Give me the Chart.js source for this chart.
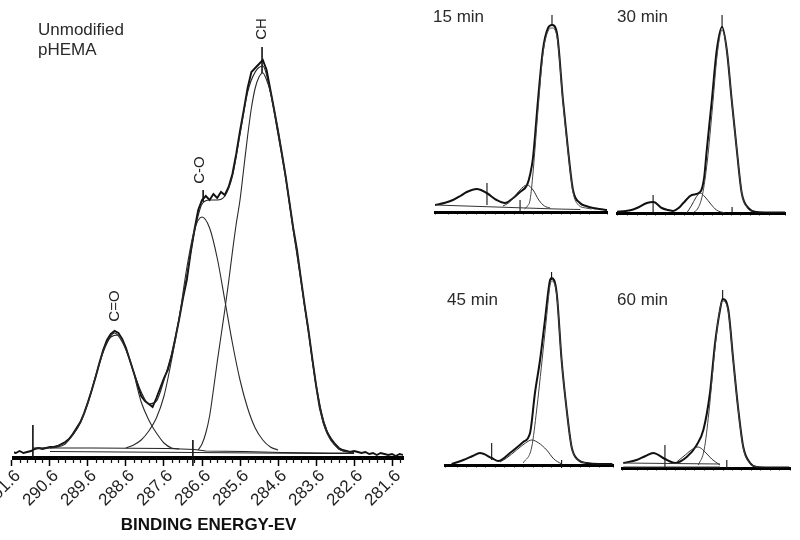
<!DOCTYPE html>
<html><head><meta charset="utf-8">
<script src="https://cdn.jsdelivr.net/npm/chart.js@4.4.0/dist/chart.umd.min.js"></script>
<style>
html,body{margin:0;padding:0;background:#fff;}
#stage{position:relative;width:800px;height:540px;overflow:hidden;background:#fff;font-family:"Liberation Sans",Arial,sans-serif;}
canvas{position:absolute;}
.t{position:absolute;font-size:17px;line-height:20px;color:#2a2a2a;white-space:nowrap;}
</style></head><body>
<div id="stage">
<canvas id="cMain"></canvas>
<canvas id="c15"></canvas>
<canvas id="c30"></canvas>
<canvas id="c45"></canvas>
<canvas id="c60"></canvas>
<div class="t" style="left:38px;top:20px">Unmodified<br>pHEMA</div>
<div class="t" style="left:433px;top:7px">15 min</div>
<div class="t" style="left:617px;top:7px">30 min</div>
<div class="t" style="left:447px;top:290px">45 min</div>
<div class="t" style="left:617px;top:290px">60 min</div>
</div>
<script>
// ---------------- MAIN PANEL (unmodified pHEMA) ----------------
const mainTickValues = [291.6,290.6,289.6,288.6,287.6,286.6,285.6,284.6,283.6,282.6,281.6];
const mainMinorTicks = [291.4,291.2,291.0,290.8,290.4,290.2,290.0,289.8,289.4,289.2,289.0,288.8,
  288.4,288.2,288.0,287.8,287.4,287.2,287.0,286.8,286.4,286.2,286.0,285.8,285.4,285.2,285.0,284.8,
  284.4,284.2,284.0,283.8,283.4,283.2,283.0,282.8,282.4,282.2,282.0,281.8,281.4];
const axisTitle = 'BINDING ENERGY-EV';

const dataEnergy = [291.6,291.5,291.4,291.3,291.2,291.1,291.0,290.9,290.8,290.7,290.6,290.5,290.4,290.3,290.2,290.1,
  290.0,289.9,289.8,289.7,289.6,289.5,289.4,289.3,289.2,289.1,289.0,288.9,288.8,288.7,288.6,288.5,288.4,288.3,288.2,288.1,
  288.0,287.9,287.8,287.7,287.6,287.5,287.4,287.3,287.2,287.1,287.0,286.9,286.8,286.7,286.6,286.5,286.4,286.3,286.2,286.1,
  286.0,285.9,285.8,285.7,285.6,285.5,285.4,285.3,285.2,285.1,285.0,284.9,284.8,284.7,284.6,284.5,284.4,284.3,284.2,284.1,
  284.0,283.9,283.8,283.7,283.6,283.5,283.4,283.3,283.2,283.1,283.0,282.9,282.8,282.7,282.6,282.5,282.4,282.3,282.2,282.1,
  282.0,281.9,281.8,281.7,281.6,281.5,281.4,281.3];
const dataCounts = [6,5,7,5,6,7,9,10,9,10,11,11,12,14,16,19,
  24,30,36,45,56,68,81,95,108,118,124,127,125,119,110,98,86,74,62,57,
  54,51,60,70,80,88,102,120,139,160,178,205,228,248,258,262,258,264,260,266,
  263,271,284,304,327,348,370,386,390,394,398,388,368,348,327,305,282,256,230,208,
  180,153,128,100,73,50,35,25,19,14,10,8,7,6,7,6,5,6,4,5,
  3,5,4,3,4,2,4,3];

const fitEnergy = [291.0,290.8,290.6,290.4,290.2,290.0,289.8,289.6,289.4,289.2,289.0,288.8,288.6,288.4,288.2,288.0,
  287.8,287.6,287.4,287.2,287.0,286.8,286.6,286.4,286.2,286.0,285.8,285.6,285.4,285.2,285.0,284.8,284.6,284.4,284.2,284.0,
  283.8,283.6,283.4,283.2,283.0,282.8,282.6];
const fitCounts = [9.5,9.7,10.5,12,15.5,23,36,56,81,106,121,123,109,86,66,54,
  57,78,104,140,182,226,254,258,258,262,282,324,366,386,392,366,324,280,228,178,
  126,74,37,18,9,6.5,5.5];

const chEnergy = [286.7,286.6,286.5,286.4,286.3,286.2,286.1,286.0,285.9,285.8,285.7,285.6,285.5,285.4,285.3,285.2,285.1,285.0,
  284.9,284.8,284.7,284.6,284.5,284.4,284.3,284.2,284.1,284.0,283.9,283.8,283.7,283.6,283.5,283.4,283.3,283.2,283.1,283.0,282.8];
const chCounts = [8,14,25,42,68,96,122,148,176,206,234,258,290,322,350,370,381,385,
  378,366,348,328,305,282,256,230,206,180,152,128,98,72,50,34,24,17,13,9,6];

const coEnergy = [288.6,288.4,288.2,288.0,287.8,287.6,287.4,287.2,287.0,286.8,286.6,286.4,
  286.2,286.0,285.8,285.6,285.4,285.2,285.0,284.8,284.6];
const coCounts = [10,13,18,27,40,62,98,140,190,228,241,230,200,158,115,78,50,30,18,11,8];

const cdoEnergy = [290.6,290.4,290.2,290.0,289.8,289.6,289.5,289.4,289.2,289.0,288.9,288.8,288.6,288.4,288.3,288.2,
  288.0,287.9,287.8,287.6,287.4,287.2];
const cdoCounts = [10,11,14,23,35,55,68,82,107,122,125,122,108,86,70,56,38,31,25,15,10,9];

const bgUpperEnergy = [291.05,289.5,287.5,286.8,286.5,285.5,284.5,283.2,282.6];
const bgUpperCounts = [10,10,9.5,8.5,7,6.5,5.5,5,5];
const bgLowerEnergy = [290.6,286.8,283.4,282.6];
const bgLowerCounts = [6.5,5.5,4.5,4.5];

const mainMarkerEnergy = [291.05,286.84,286.57,285.02];
const mainMarkerFrom   = [33,18,256,385];
const mainMarkerTo     = [0,-8,268,411];

const peakLabelText   = ['C=O','C-O','CH'];
const peakLabelEnergy = [288.9,286.65,285.02];
const peakLabelHeight = [152,288,429];

// ---------------- SMALL PANELS ----------------
// 15 min
const p15EnvE = [291.19,290.7,290.24,289.85,289.51,288.98,288.46,287.93,287.49,287.05,286.69,286.32,286.15,286.0,
  285.74,285.48,285.21,285.0,284.74,284.42,284.15,283.89,283.52,283.2,282.83,282.5,282.09];
const p15EnvV = [7,9,12,16,20,23,19,12,9,14,20,27,38,55,112,162,184,187,179,112,62,22,9,6,4,3,2];
const p15CHE = [286.45,286.3,286.16,286.0,285.74,285.48,285.21,285.0,284.74,284.42,284.15,283.89,283.6,283.2,282.9];
const p15CHV = [3,6,12,40,102,158,181,184,176,110,60,20,7,4,3];
const p15COE = [287.6,287.3,287.0,286.7,286.32,286.0,285.7,285.4,285.1];
const p15COV = [6,9,15,22,27,22,12,6,4];
const p15BgE = [291.19,284.74,283.5];
const p15BgV = [7,3,2.5];
const p15MarkE = [288.44,286.69,285.0];
const p15MarkFrom = [29,12,187];
const p15MarkTo = [7,0,197];

// 30 min
const p30EnvE = [290.56,290.1,289.8,289.51,288.98,288.63,288.19,287.85,287.58,287.3,287.05,286.6,286.16,285.95,
  285.81,285.54,285.28,285.0,284.75,284.49,284.22,283.96,283.6,283.16,282.5,281.67];
const p30EnvV = [1.3,2,3,5,10,11,5,3,2,5,10,18,21,35,63,113,163,186,163,113,63,20,5,1,0.5,0.5];
const p30CHE = [286.5,286.3,286.04,285.78,285.51,285.26,285.0,284.75,284.49,284.22,283.96,283.7,283.4];
const p30CHV = [1,4,18,52,105,158,183,163,113,63,20,6,1];
const p30COE = [286.87,286.6,286.4,286.16,285.9,285.6,285.3,284.84];
const p30COV = [0,8,15,20,16,9,3,0];
const p30MarkE = [288.65,284.47,285.0];
const p30MarkFrom = [18,6,186];
const p30MarkTo = [0,0,198];

// 45 min
const p45EnvE = [290.31,289.69,289.2,288.81,288.19,287.84,287.22,286.52,286.16,285.9,285.63,285.37,285.1,285.02,
  284.75,284.49,284.22,283.96,283.61,283.16,282.5,281.8];
const p45EnvV = [1,5,9,12,7,4,12,23,32,72,105,145,185,187,172,105,55,18,5,2,1,1];
const p45CHE = [286.52,286.07,285.81,285.55,285.3,285.1,285.02,284.75,284.49,284.22,283.96,283.61,283.2];
const p45CHV = [2,18,55,100,145,180,184,170,105,55,18,5,2];
const p45COE = [287.75,287.4,286.87,286.4,286.07,285.7,285.28,284.9,284.49];
const p45COV = [3,7,15,22,25,22,15,6,1];
const p45MarkE = [288.19,284.49,285.02];
const p45MarkFrom = [22,5,185];
const p45MarkTo = [5,-3,193];

// 60 min
const p60EnvE = [290.27,289.57,289.1,288.69,288.07,287.54,286.92,286.39,286.04,285.69,285.42,285.16,285.02,
  284.72,284.46,284.19,283.93,283.57,283.22,282.6,281.5];
const p60EnvV = [5,8,12,15,9,5,11,23,38,75,125,158,169,158,108,58,21,5,1,0.5,0.5];
const p60CHE = [286.3,286.0,285.75,285.45,285.2,285.02,284.72,284.46,284.19,283.93,283.6,283.2];
const p60CHV = [3,18,55,115,155,167,156,107,57,20,5,1];
const p60COE = [287.45,287.0,286.6,286.31,286.0,285.6,285.16];
const p60COV = [6,13,19,21,17,9,3];
const p60BgE = [290.27,285.16];
const p60BgV = [5,4];
const p60Bg2V = [1,1];
const p60MarkE = [288.07,284.8,285.02];
const p60MarkFrom = [23,8,169];
const p60MarkTo = [1,-2,178];

// ---------------- helpers ----------------
const FONT = '"Liberation Sans", Arial, sans-serif';
Chart.defaults.font.family = FONT;

function xy(E, V){ return E.map((e,i)=>({x:e, y:V[i]})); }
function line(E, V, color, width, extra){
  return Object.assign({data: xy(E,V), borderColor: color, borderWidth: width, pointRadius: 0,
    fill: false, tension: 0, cubicInterpolationMode: 'monotone'}, extra||{});
}
function markers(E, from, to, width){
  return E.map((e,i)=>({data:[{x:e,y:from[i]},{x:e,y:to[i]}], borderColor:'#111', borderWidth: width||1.3,
    pointRadius:0, fill:false, clip:false}));
}

const minorTickPlugin = {
  id:'minorTicks',
  afterDraw(chart){
    const list = chart.options.plugins.minorTicks && chart.options.plugins.minorTicks.values;
    if(!list) return;
    const xs = chart.scales.x, ctx = chart.ctx, b = chart.chartArea.bottom;
    ctx.save(); ctx.strokeStyle = '#111'; ctx.lineWidth = 1.2;
    list.forEach(v=>{ const px = Math.round(xs.getPixelForValue(v))+0.5;
      ctx.beginPath(); ctx.moveTo(px,b); ctx.lineTo(px,b+5); ctx.stroke(); });
    ctx.restore();
  }
};
const peakLabelPlugin = {
  id:'peakLabels',
  afterDatasetsDraw(chart){
    if(chart.canvas.id !== 'cMain') return;
    const ctx = chart.ctx, xs = chart.scales.x, ys = chart.scales.y;
    ctx.save(); ctx.font = '15px ' + FONT; ctx.fillStyle = '#222';
    ctx.textAlign = 'center'; ctx.textBaseline = 'middle';
    peakLabelText.forEach((t,i)=>{
      ctx.save(); ctx.translate(xs.getPixelForValue(peakLabelEnergy[i]), ys.getPixelForValue(peakLabelHeight[i]));
      ctx.rotate(-Math.PI/2); ctx.fillText(t,0,0); ctx.restore();
    });
    ctx.restore();
  }
};

function makeChart(cfg){
  const c = document.getElementById(cfg.id);
  c.width = cfg.box.w; c.height = cfg.box.h;
  c.style.left = cfg.box.x + 'px'; c.style.top = cfg.box.y + 'px';
  const axisH = cfg.box.y + cfg.box.h - cfg.area.b;
  const xScale = Object.assign({
    type:'linear', reverse:true, min: cfg.xr[1], max: cfg.xr[0],
    afterFit(s){ s.height = axisH; s.paddingLeft = 0; s.paddingRight = 0; }
  }, cfg.xopts);
  return new Chart(c, {
    type:'line',
    data:{datasets: cfg.datasets},
    options:{
      responsive:false, animation:false, devicePixelRatio:1, events:[],
      layout:{padding:{left: cfg.area.l - cfg.box.x, right: cfg.box.x + cfg.box.w - cfg.area.r,
        top: cfg.area.t - cfg.box.y, bottom: 0}},
      plugins:{legend:{display:false}, tooltip:{enabled:false}, minorTicks:{values: cfg.minor || null}},
      scales:{ x: xScale, y:{display:false, min:0, max: cfg.area.b - cfg.area.t} }
    },
    plugins:[minorTickPlugin, peakLabelPlugin]
  });
}

// ---------------- main chart ----------------
makeChart({
  id:'cMain', box:{x:0,y:0,w:420,h:540}, area:{l:14,r:403,t:18,b:458}, xr:[291.547,281.311],
  minor: mainMinorTicks,
  xopts:{
    afterBuildTicks(s){ s.ticks = mainTickValues.map(v=>({value:v})); },
    border:{display:true, color:'#000', width:4},
    grid:{drawOnChartArea:false, drawTicks:true, tickLength:8, tickWidth:1.5, tickColor:'#000'},
    ticks:{autoSkip:false, minRotation:45, maxRotation:45, padding:0, labelOffset:6, color:'#222',
      font:{size:17, family:FONT}, callback:(v)=>Number(v).toFixed(1)},
    title:{display:true, text:axisTitle, color:'#111', font:{size:17, weight:'bold', family:FONT},
      padding:{top:0, bottom:4}}
  },
  datasets:[
    line(bgUpperEnergy, bgUpperCounts, '#222', 1.2, {cubicInterpolationMode:'default'}),
    line(bgLowerEnergy, bgLowerCounts, '#222', 1.2, {cubicInterpolationMode:'default'}),
    line(cdoEnergy, cdoCounts, '#2a2a2a', 1.1),
    line(coEnergy, coCounts, '#2a2a2a', 1.1),
    line(chEnergy, chCounts, '#2a2a2a', 1.1),
    line(fitEnergy, fitCounts, '#222', 1.2),
    line(dataEnergy, dataCounts, '#111', 1.9, {cubicInterpolationMode:'default'}),
    ...markers(mainMarkerEnergy, mainMarkerFrom, mainMarkerTo, 1.6)
  ]
});

// ---------------- small panels ----------------
function smallX(){
  return {
    border:{display:true, color:'#000', width:3},
    grid:{drawOnChartArea:false, drawTicks:true, tickLength:3, tickWidth:1, tickColor:'#9a9a9a'},
    ticks:{display:false, stepSize:0.5}
  };
}
makeChart({
  id:'c15', box:{x:420,y:0,w:190,h:235}, area:{l:435,r:607,t:12,b:212}, xr:[291.19,282.09], xopts:smallX(),
  datasets:[
    line(p15BgE, p15BgV, '#333', 1, {cubicInterpolationMode:'default'}),
    line(p15COE, p15COV, '#333', 1),
    line(p15CHE, p15CHV, '#444', 1),
    line(p15EnvE, p15EnvV, '#111', 2),
    ...markers(p15MarkE, p15MarkFrom, p15MarkTo, 1.1)
  ]
});
makeChart({
  id:'c30', box:{x:610,y:0,w:190,h:235}, area:{l:617,r:785,t:13,b:213}, xr:[290.56,281.67], xopts:smallX(),
  datasets:[
    line(p30COE, p30COV, '#333', 1),
    line(p30CHE, p30CHV, '#444', 1),
    line(p30EnvE, p30EnvV, '#111', 2),
    ...markers(p30MarkE, p30MarkFrom, p30MarkTo, 1.1)
  ]
});
makeChart({
  id:'c45', box:{x:420,y:250,w:195,h:230}, area:{l:445,r:613,t:265,b:465}, xr:[290.66,281.77], xopts:smallX(),
  datasets:[
    line(p45COE, p45COV, '#333', 1),
    line(p45CHE, p45CHV, '#444', 1),
    line(p45EnvE, p45EnvV, '#111', 2),
    ...markers(p45MarkE, p45MarkFrom, p45MarkTo, 1.1)
  ]
});
makeChart({
  id:'c60', box:{x:615,y:250,w:185,h:230}, area:{l:622,r:790,t:268,b:468}, xr:[290.34,281.46], xopts:smallX(),
  datasets:[
    line(p60BgE, p60BgV, '#333', 1, {cubicInterpolationMode:'default'}),
    line(p60BgE, p60Bg2V, '#333', 1, {cubicInterpolationMode:'default'}),
    line(p60COE, p60COV, '#333', 1),
    line(p60CHE, p60CHV, '#444', 1),
    line(p60EnvE, p60EnvV, '#111', 2),
    ...markers(p60MarkE, p60MarkFrom, p60MarkTo, 1.1)
  ]
});
</script>
</body></html>
